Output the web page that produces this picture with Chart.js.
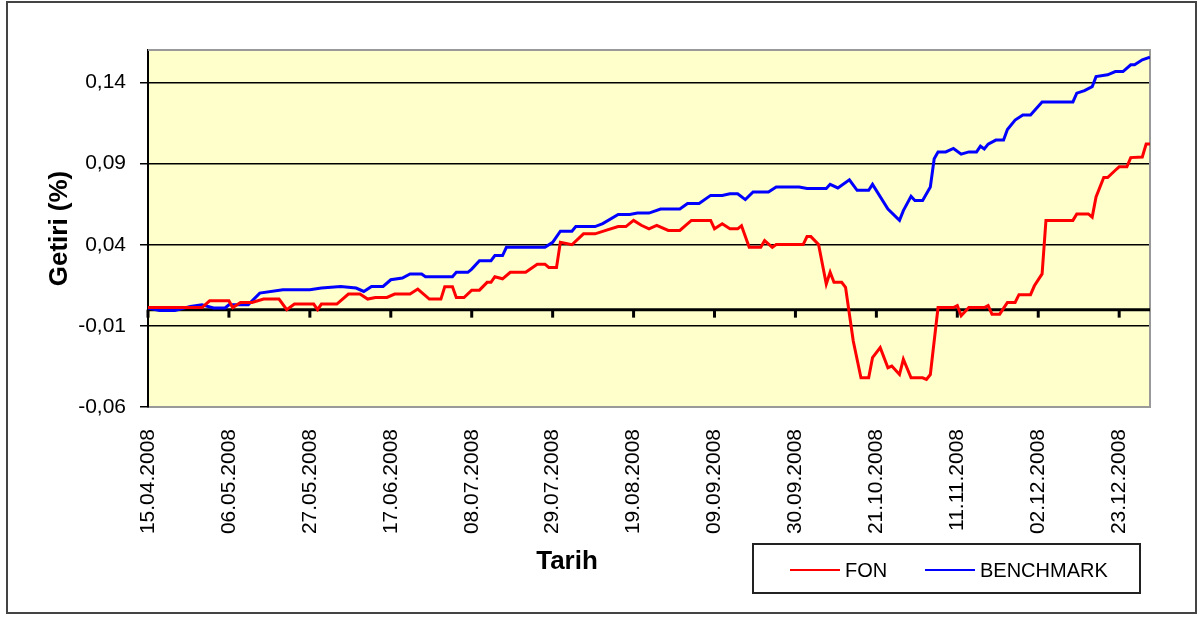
<!DOCTYPE html>
<html>
<head>
<meta charset="utf-8">
<script src="https://cdn.jsdelivr.net/npm/chart.js@4/dist/chart.umd.min.js"></script>
<style>
  html, body { margin: 0; padding: 0; background: #fff; }
</style>
</head>
<body>
<canvas id="getiri_chart" width="1200" height="617"></canvas>
<script>
// gün: 15.04.2008'den itibaren gün sayısı
const fonDays = [
  0, 14, 16, 21, 22, 24, 27, 30, 34, 36, 38, 43, 44, 45, 49, 52, 55, 57, 59, 62,
  64, 68, 70, 73, 76, 77, 79, 80, 82, 84, 86, 88, 89, 90, 92, 94, 98, 101, 103, 104,
  106, 107, 110, 113, 116, 119, 122, 124, 126, 128, 130, 132, 135, 138, 141, 146, 147, 149, 151, 153,
  154, 156, 159, 160, 162, 163, 170, 171, 172, 174, 176, 177, 178, 180, 181, 183, 185, 187, 188, 190,
  192, 193, 195, 196, 198, 201, 202, 203, 205, 209, 210, 211, 213, 217, 218, 219, 221, 223, 225, 226,
  229, 230, 232, 233, 240, 241, 244, 245, 246, 248, 249, 251, 252, 254, 255, 258, 259, 260,
];
const fonValues = [
  0.0013, 0.0013, 0.0054, 0.0054, 0.0013, 0.0044, 0.0044, 0.0065, 0.0065, 0.0, 0.0034, 0.0034, 0.0, 0.0034, 0.0034, 0.0096, 0.0096, 0.0065, 0.0075, 0.0075,
  0.0096, 0.0096, 0.0127, 0.0065, 0.0065, 0.0141, 0.0141, 0.0075, 0.0075, 0.012, 0.012, 0.0168, 0.0168, 0.0203, 0.019, 0.023, 0.023, 0.028, 0.028, 0.026,
  0.026, 0.0415, 0.040, 0.0467, 0.0467, 0.049, 0.0512, 0.0512, 0.055, 0.052, 0.0498, 0.0519, 0.0488, 0.0488, 0.055, 0.055, 0.0498, 0.0529, 0.0498, 0.0498,
  0.0517, 0.0384, 0.0384, 0.0426, 0.0384, 0.0401, 0.0401, 0.045, 0.045, 0.0401, 0.0158, 0.023, 0.0168, 0.0168, 0.0138, -0.0193, -0.042, -0.042, -0.0296, -0.0234,
  -0.0358, -0.0348, -0.040, -0.0306, -0.042, -0.042, -0.043, -0.040, 0.0013, 0.0013, 0.0025, -0.0038, 0.0013, 0.0013, 0.0025, -0.0028, -0.0028, 0.0044, 0.0044, 0.0092,
  0.0092, 0.0147, 0.022, 0.055, 0.055, 0.059, 0.059, 0.057, 0.0694, 0.0814, 0.0814, 0.0859, 0.088, 0.088, 0.0937, 0.0941, 0.102, 0.102,
];

const benchDays = [
  0, 3, 7, 11, 14, 17, 20, 21, 26, 29, 35, 42, 45, 50, 54, 56, 58, 61, 63, 66,
  68, 71, 72, 79, 80, 83, 84, 86, 89, 90, 92, 93, 103, 105, 107, 110, 111, 116, 118, 122,
  125, 127, 130, 133, 138, 140, 143, 146, 149, 151, 153, 155, 157, 161, 163, 169, 171, 176, 177, 179,
  182, 184, 187, 188, 192, 195, 196, 198, 199, 201, 203, 204, 205, 207, 209, 211, 213, 215, 216, 217,
  218, 220, 222, 223, 225, 227, 229, 232, 240, 241, 243, 245, 246, 249, 251, 253, 255, 256, 258, 260,
];
const benchValues = [
  0.001, -0.0005, -0.0005, 0.002, 0.003, 0.001, 0.001, 0.003, 0.003, 0.0102, 0.0122, 0.0122, 0.0133, 0.0143, 0.0133, 0.0112, 0.0143, 0.0143, 0.0184, 0.0195,
  0.022, 0.022, 0.0203, 0.0203, 0.023, 0.023, 0.025, 0.0302, 0.0302, 0.0333, 0.0333, 0.0384, 0.0384, 0.0415, 0.0483, 0.0483, 0.0512, 0.0512, 0.053, 0.0587,
  0.0587, 0.0595, 0.0595, 0.062, 0.062, 0.0654, 0.0654, 0.0704, 0.0704, 0.0714, 0.0714, 0.0678, 0.0725, 0.0725, 0.0756, 0.0756, 0.0746, 0.0746, 0.0772, 0.075,
  0.080, 0.0735, 0.0735, 0.0772, 0.062, 0.055, 0.061, 0.0698, 0.0673, 0.0673, 0.0756, 0.093, 0.0972, 0.0972, 0.0993, 0.0958, 0.0972, 0.0972, 0.1007, 0.099,
  0.102, 0.1045, 0.1045, 0.111, 0.1168, 0.12, 0.12, 0.128, 0.128, 0.1334, 0.135, 0.1374, 0.1436, 0.1447, 0.1467, 0.1467, 0.1509, 0.1509, 0.154, 0.1556,
];

const yTicks = [-0.06, -0.01, 0.04, 0.09, 0.14];
const xTicks = [0, 21, 42, 63, 84, 105, 126, 147, 168, 189, 210, 231, 252];
const startDate = Date.UTC(2008, 3, 15);

const toPoints = (days, values) => days.map((d, i) => ({ x: d, y: values[i] }));

const formatDate = (day) => {
  const d = new Date(startDate + day * 86400000);
  const pad = (n) => String(n).padStart(2, "0");
  return pad(d.getUTCDate()) + "." + pad(d.getUTCMonth() + 1) + "." + d.getUTCFullYear();
};

const chartDecor = {
  id: "chartDecor",
  beforeDraw(chart) {
    const { ctx, chartArea: a } = chart;
    ctx.save();
    ctx.fillStyle = "#fff";
    ctx.fillRect(0, 0, chart.width, chart.height);
    ctx.strokeStyle = "#444";
    ctx.lineWidth = 2;
    ctx.strokeRect(7, 2, 1189, 611);
    ctx.fillStyle = "#FFFFCC";
    ctx.fillRect(a.left, a.top, a.right - a.left, a.bottom - a.top);
    ctx.restore();
  },
  beforeDatasetsDraw(chart) {
    const { ctx, chartArea: a, scales } = chart;
    ctx.save();
    ctx.strokeStyle = "#999";
    ctx.lineWidth = 2;
    ctx.beginPath();
    ctx.moveTo(a.left, a.top);
    ctx.lineTo(a.right, a.top);
    ctx.lineTo(a.right, a.bottom);
    ctx.stroke();
    // sıfır çizgisi ve tarih işaretleri
    const y0 = scales.y.getPixelForValue(0);
    ctx.strokeStyle = "#000";
    ctx.lineWidth = 3;
    ctx.beginPath();
    ctx.moveTo(a.left, y0);
    ctx.lineTo(a.right, y0);
    ctx.stroke();
    ctx.lineWidth = 3;
    xTicks.forEach((t) => {
      const x = scales.x.getPixelForValue(t);
      ctx.beginPath();
      ctx.moveTo(x, y0);
      ctx.lineTo(x, y0 + 8);
      ctx.stroke();
    });
    ctx.restore();
  },
  afterDraw(chart) {
    const { ctx } = chart;
    ctx.save();
    ctx.fillStyle = "#000";
    ctx.font = "bold 26px 'Liberation Sans', Arial, sans-serif";
    ctx.textAlign = "center";
    ctx.textBaseline = "middle";
    ctx.fillText("Tarih", 567, 562);

    // lejant
    ctx.strokeStyle = "#222";
    ctx.lineWidth = 2;
    ctx.strokeRect(753, 544, 387, 49);
    ctx.font = "20px 'Liberation Sans', Arial, sans-serif";
    ctx.textAlign = "left";
    const spots = [790, 925];
    chart.data.datasets.forEach((ds, i) => {
      const x = spots[i];
      ctx.strokeStyle = ds.borderColor;
      ctx.lineWidth = 2;
      ctx.beginPath();
      ctx.moveTo(x, 570);
      ctx.lineTo(x + 50, 570);
      ctx.stroke();
      ctx.fillStyle = "#000";
      ctx.fillText(ds.label, x + 55, 571);
    });
    ctx.restore();
  },
};

const drawChart = () => {
  const canvas = document.querySelector("#getiri_chart").getContext("2d");
  new Chart(canvas, {
    type: "line",
    data: {
      datasets: [
        {
          label: "FON",
          data: toPoints(fonDays, fonValues),
          borderColor: "#FF0000",
          borderWidth: 3,
          pointRadius: 0,
          tension: 0,
        },
        {
          label: "BENCHMARK",
          data: toPoints(benchDays, benchValues),
          borderColor: "#0000FF",
          borderWidth: 3,
          pointRadius: 0,
          tension: 0,
        },
      ],
    },
    options: {
      responsive: false,
      animation: false,
      layout: { padding: { left: 10, top: 50, right: 50, bottom: 10 } },
      plugins: {
        legend: { display: false },
        tooltip: { enabled: false },
      },
      scales: {
        x: {
          type: "linear",
          min: 0,
          max: 260,
          afterFit: (scale) => { scale.height = 200; },
          afterBuildTicks: (scale) => { scale.ticks = xTicks.map((v) => ({ value: v })); },
          grid: { display: false, drawTicks: false },
          border: { color: "#999", width: 2 },
          ticks: {
            minRotation: 90,
            maxRotation: 90,
            padding: 22,
            color: "#000",
            font: { family: "'Liberation Sans', Arial, sans-serif", size: 21 },
            callback: (v) => formatDate(v),
          },
        },
        y: {
          min: -0.06,
          max: 0.16,
          afterFit: (scale) => { scale.width = 138; },
          afterBuildTicks: (scale) => { scale.ticks = yTicks.map((v) => ({ value: v })); },
          grid: {
            color: (c) => (c.tick && c.tick.value === -0.06 ? "#999" : "#000"),
            lineWidth: 1.5,
            tickLength: 8,
            tickColor: "#000",
          },
          border: { color: "#000", width: 2 },
          title: {
            display: true,
            text: "Getiri (%)",
            color: "#000",
            padding: { top: 34 },
            font: { family: "'Liberation Sans', Arial, sans-serif", size: 26, weight: "bold" },
          },
          ticks: {
            padding: 14,
            color: "#000",
            font: { family: "'Liberation Sans', Arial, sans-serif", size: 21 },
            callback: (v) => v.toFixed(2).replace(".", ","),
          },
        },
      },
    },
    plugins: [chartDecor],
  });
};

drawChart();
</script>
</body>
</html>
